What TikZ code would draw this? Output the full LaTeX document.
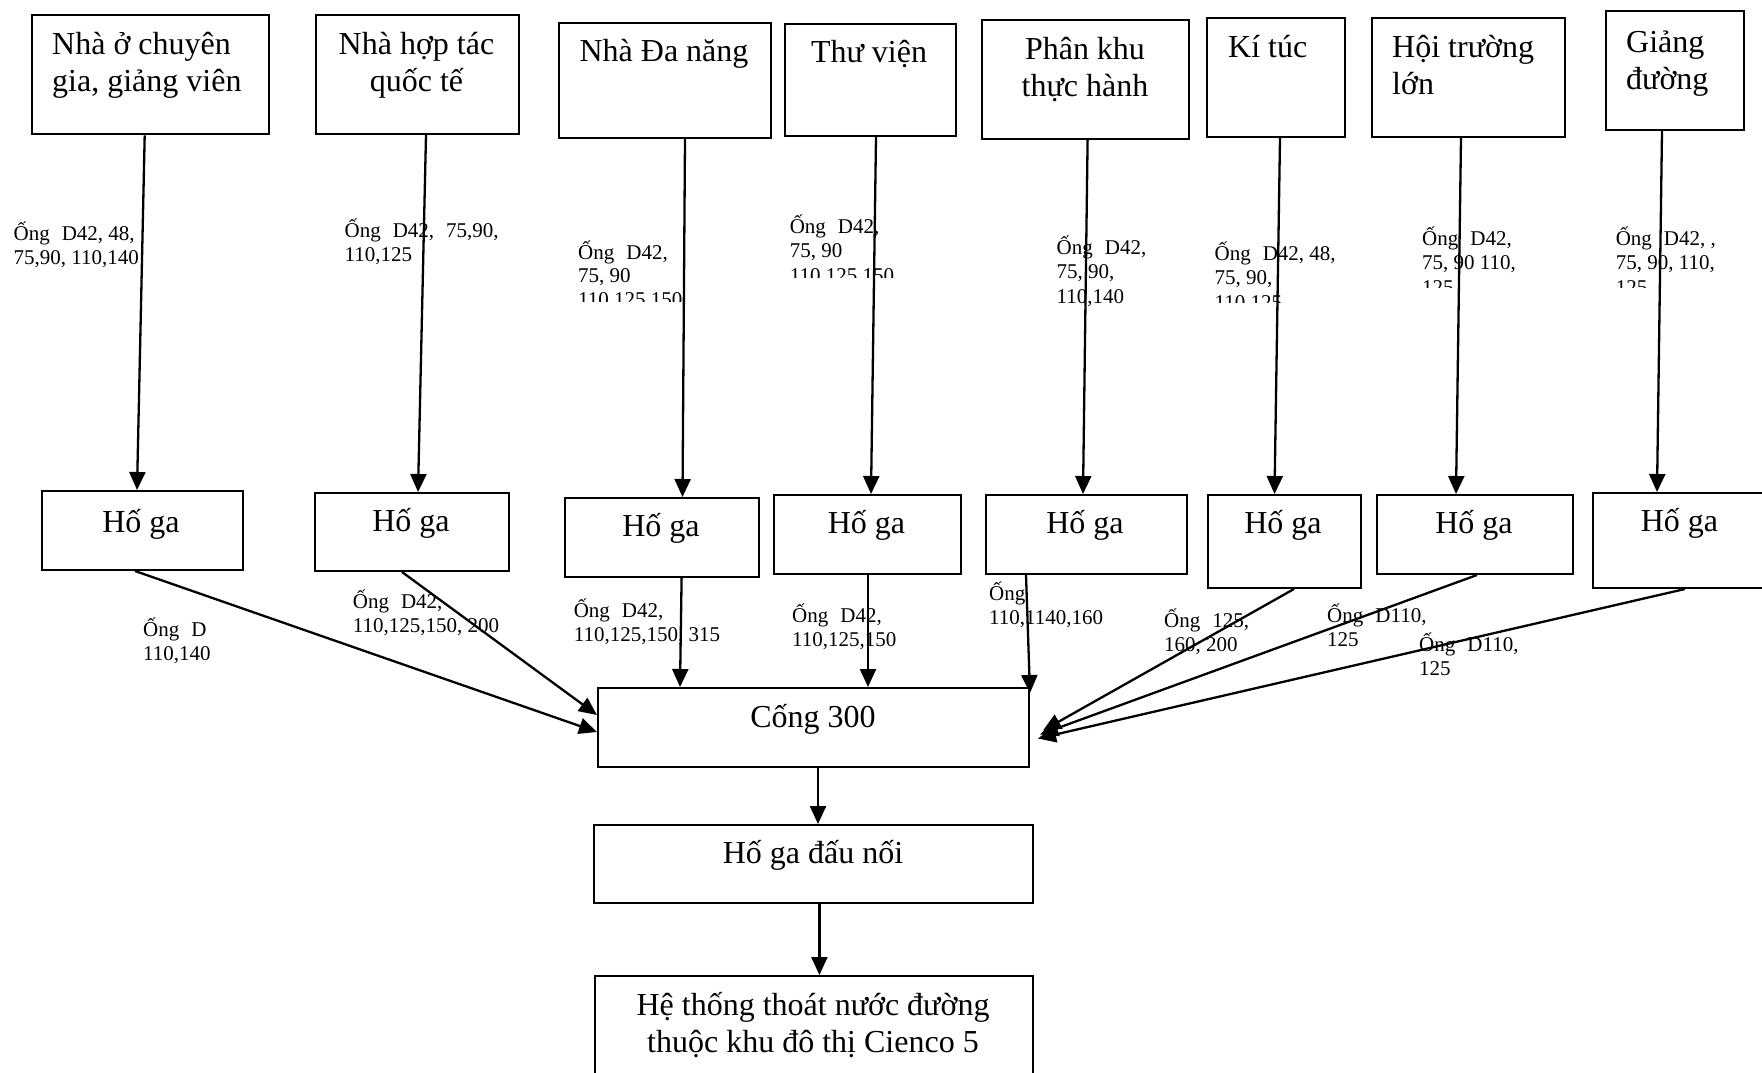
\documentclass[tikz,border=0pt]{standalone}
\usepackage{fontspec}
\setmainfont{Liberation Serif}
\usetikzlibrary{arrows.meta,calc}
\newcommand\ogap{\hspace{12pt}}
\begin{document}
\begin{tikzpicture}[x=1pt,y=-1pt,
  box/.style={draw, line width=2pt, inner sep=0pt, anchor=north west},
  ttl/.style={inner sep=0pt, font=\fontsize{32}{37}\selectfont, anchor=base, align=center},
  ttll/.style={inner sep=0pt, font=\fontsize{32}{37}\selectfont, anchor=base west, align=left},
  lbl/.style={inner sep=0pt, font=\fontsize{21}{24.5}\selectfont, anchor=base west, align=left},
  pipe/.style={line width=2.3pt, -{Triangle[length=18pt,width=16pt]}},
]
\useasboundingbox (0,0) rectangle (1762,1073);

% building boxes
\node[box, minimum width=237.4pt, minimum height=119pt] (b1) at (30.6,14.3) {};
\node[box, minimum width=203.4pt, minimum height=119pt] (b2) at (314.6,14) {};
\node[box, minimum width=212pt, minimum height=115pt] (b3) at (558,22) {};
\node[box, minimum width=171pt, minimum height=112pt] (b4) at (784,23) {};
\node[box, minimum width=207pt, minimum height=119pt] (b5) at (981,19) {};
\node[box, minimum width=138pt, minimum height=119pt] (b6) at (1206,17) {};
\node[box, minimum width=193pt, minimum height=119pt] (b7) at (1370.5,17) {};
\node[box, minimum width=137.5pt, minimum height=119pt] (b8) at (1605,10) {};

% (base anchor of a multi-line node = baseline of its last line)
\node[ttll] (t1) at (52,92) {Nhà ở chuyên\\gia, giảng viên};
\node[ttl] (t2) at (416.5,92) {Nhà hợp tác\\quốc tế};
\node[ttl] (t3) at (664,62) {Nhà Đa năng};
\node[ttl] (t4) at (869,63) {Thư viện};
\node[ttl] (t5) at (1085,96) {Phân khu\\thực hành};
\node[ttll] (t6) at (1228,58) {Kí túc};
\node[ttll] (t7) at (1392,95) {Hội trường\\lớn};
\node[ttll] (t8) at (1626,89) {Giảng\\đường};

% manhole boxes
\node[box, minimum width=201.4pt, minimum height=79pt] (h1) at (40.6,490) {};
\node[box, minimum width=194pt, minimum height=78pt] (h2) at (314,492) {};
\node[box, minimum width=194pt, minimum height=79pt] (h3) at (564,497) {};
\node[box, minimum width=187pt, minimum height=79pt] (h4) at (772.8,494) {};
\node[box, minimum width=201pt, minimum height=79pt] (h5) at (984.8,494) {};
\node[box, minimum width=153.5pt, minimum height=93pt] (h6) at (1206.5,494) {};
\node[box, minimum width=195.7pt, minimum height=79pt] (h7) at (1376,494) {};
\node[box, minimum width=175pt, minimum height=95pt] (h8) at (1591.7,492) {};

\node[ttl] (g1) at (141,532) {Hố ga};
\node[ttl] (g2) at (411,531) {Hố ga};
\node[ttl] (g3) at (661,536) {Hố ga};
\node[ttl] (g4) at (866.5,533) {Hố ga};
\node[ttl] (g5) at (1085,533) {Hố ga};
\node[ttl] (g6) at (1283,533) {Hố ga};
\node[ttl] (g7) at (1474,533) {Hố ga};
\node[ttl] (g8) at (1679.5,531) {Hố ga};

% lower chain
\node[box, minimum width=431pt, minimum height=79pt] (c) at (597,687) {};
\node[ttl] (ct) at (813,727) {Cống 300};
\node[box, minimum width=439pt, minimum height=78pt] (d) at (593,824) {};
\node[ttl] (dt) at (813,863) {Hố ga đấu nối};
\node[box, minimum width=438pt, minimum height=110pt] (e) at (593.5,975) {};
\node[ttl] (et) at (813,1052) {Hệ thống thoát nước đường\\thuộc khu đô thị Cienco 5};

% pipe labels (upper)
\node[lbl] (l1) at (13.4,264.5) {Ống\ogap D42, 48,\\75,90, 110,140};
\node[lbl] (l2) at (344.4,261.5) {Ống\ogap D42,\ogap 75,90,\\110,125};
\begin{scope}
\clip (560,190) rectangle (720,301);
\node[lbl, font=\fontsize{21}{23.5}\selectfont] (l3) at (578,306) {Ống\ogap D42,\\75, 90\\110,125,150};
\end{scope}
\begin{scope}
\clip (780,190) rectangle (930,277);
\node[lbl] (l4) at (789.6,282) {Ống\ogap D42,\\75, 90\\110,125,150};
\end{scope}
\node[lbl] (l5) at (1056.5,303) {Ống\ogap D42,\\75, 90,\\110,140};
\begin{scope}
\clip (1205,200) rectangle (1360,302);
\node[lbl] (l6) at (1214.4,309) {Ống\ogap D42, 48,\\75, 90,\\110,125};
\end{scope}
\begin{scope}
\clip (1415,200) rectangle (1560,287);
\node[lbl] (l7) at (1422,294) {Ống\ogap D42,\\75, 90 110,\\125};
\end{scope}
\begin{scope}
\clip (1605,200) rectangle (1762,287);
\node[lbl] (l8) at (1615.6,294) {Ống\ogap D42, ,\\75, 90, 110,\\125};
\end{scope}

% pipe labels (lower)
\node[lbl] (la) at (143,660.5) {Ống\ogap D\\110,140};
\node[lbl] (lb) at (352.7,632.5) {Ống\ogap D42,\\110,125,150, 200};
\node[lbl] (lc) at (573.6,641.5) {Ống\ogap D42,\\110,125,150, 315};
\node[lbl] (ld) at (792,646.5) {Ống\ogap D42,\\110,125,150};
\node[lbl] (le) at (989,624.5) {Ống\\110,1140,160};
\node[lbl] (lf) at (1164,651.5) {Ống\ogap 125,\\160, 200};
\node[lbl] (lg) at (1327,646.5) {Ống\ogap D110,\\125};
\node[lbl] (lh) at (1419,675.5) {Ống\ogap D110,\\125};

% connectors building -> manhole
\draw[pipe] (b1.south -| 144.7,0) -- (h1.north -| 137,0);
\draw[pipe] (b2.south -| 426,0) -- (h2.north -| 418,0);
\draw[pipe] (b3.south -| 685,0) -- (h3.north -| 682.5,0);
\draw[pipe] (b4.south -| 876,0) -- (h4.north -| 871,0);
\draw[pipe] (b5.south -| 1087.6,0) -- (h5.north -| 1083,0);
\draw[pipe] (b6.south -| 1280,0) -- (h6.north -| 1274.5,0);
\draw[pipe] (b7.south -| 1461,0) -- (h7.north -| 1456,0);
\draw[pipe] (b8.south -| 1662,0) -- (h8.north -| 1657,0);

% manhole -> sewer
\draw[pipe] (h1.south -| 135,0) -- (c.west |- 0,732);
\draw[pipe] (h2.south -| 402,0) -- (c.west |- 0,715);
\draw[pipe] (h3.south -| 681.6,0) -- (c.north -| 680,0);
\draw[pipe] (h4.south -| 868,0) -- (c.north -| 868,0);
\draw[pipe] (h5.south -| 1026,0) -- (c.north east |- 0,693);
\draw[pipe] (h6.south -| 1294,0) -- ($(c.east)+(13,3)$);
\draw[pipe] (h7.south -| 1477,0) -- ($(c.east)+(10,7)$);
\draw[pipe] (h8.south -| 1685,0) -- ($(c.east)+(8,11)$);

\draw[pipe] (c.south -| 818,0) -- (d.north -| 818,0);
\draw[pipe] (d.south -| 819.4,0) -- (e.north -| 819.4,0);
\end{tikzpicture}
\end{document}
